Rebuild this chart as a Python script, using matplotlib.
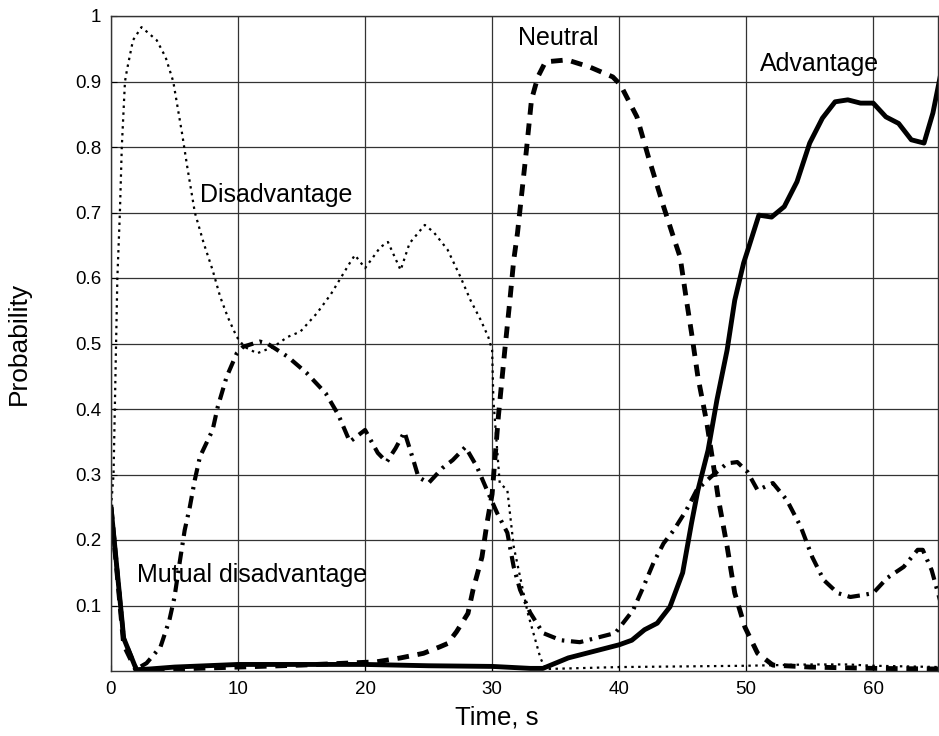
import matplotlib
matplotlib.use("Agg")
import matplotlib.pyplot as plt

plt.rcParams['font.family'] = ['Liberation Sans', 'DejaVu Sans']

# Advantage (solid)
adv_t = [0, 1, 2, 3, 5, 10, 15, 20, 25, 30, 33, 34, 36, 38, 40, 41, 42, 43, 44, 45,
         45.7, 46.2, 47, 47.7, 48.5, 49.1, 49.8, 50.2, 51, 52, 53, 54, 55, 56, 57, 58,
         59, 60, 61, 62, 63, 64, 64.7, 65.3]
adv_p = [0.25, 0.05, 0.002, 0.003, 0.006, 0.01, 0.01, 0.01, 0.008, 0.007, 0.004, 0.004,
         0.02, 0.03, 0.04, 0.047, 0.063, 0.073, 0.098, 0.15, 0.226, 0.276, 0.337, 0.414,
         0.49, 0.566, 0.623, 0.647, 0.696, 0.693, 0.709, 0.747, 0.806, 0.844, 0.869,
         0.872, 0.867, 0.867, 0.846, 0.836, 0.811, 0.806, 0.852, 0.91]

# Neutral (dashed)
neu_t = [0, 1, 2, 5, 10, 15, 20.9, 22.8, 24.6, 25.9, 26.5, 27.2, 28.1, 28.5, 29.2, 29.6,
         30.0, 30.5, 31.0, 31.4, 31.7, 32.0, 32.7, 33.1, 33.6, 34.2, 35.9, 37.7, 39.5,
         40.1, 41.4, 42.3, 43.5, 44.3, 44.8, 45.3, 45.7, 46.2, 46.9, 47.4, 47.8, 48.5,
         49.1, 49.9, 50.9, 52.1, 55, 60, 65.3]
neu_p = [0.25, 0.04, 0.0, 0.003, 0.006, 0.009, 0.014, 0.02, 0.027, 0.037, 0.042, 0.06,
         0.088, 0.124, 0.174, 0.226, 0.27, 0.39, 0.49, 0.566, 0.627, 0.669, 0.795, 0.872,
         0.907, 0.93, 0.933, 0.922, 0.907, 0.895, 0.846, 0.785, 0.709, 0.661, 0.632,
         0.566, 0.516, 0.449, 0.379, 0.317, 0.264, 0.19, 0.119, 0.067, 0.027, 0.009,
         0.006, 0.004, 0.003]

# Mutual disadvantage (dash-dot)
mut_t = [0, 1, 2, 2.8, 3.9, 4.6, 5.0, 5.4, 5.8, 6.2, 6.6, 7.0, 8.0, 8.4, 9.1, 9.9, 10.4,
         11.7, 12.3, 13.9, 15.4, 16.9, 17.9, 18.8, 20.0, 21.0, 21.7, 22.4, 23.1, 23.8,
         24.2, 25.0, 26.1, 26.9, 27.9, 28.8, 29.6, 30.4, 31.2, 31.7, 32.2, 33.0, 34.0,
         35.4, 36.9, 38.5, 39.7, 40.3, 41.1, 41.9, 42.7, 43.5, 44.3, 45.3, 46.1, 47.2,
         48.5, 49.3, 50.1, 50.9, 52.1, 53.2, 54.3, 55.2, 56.1, 57.2, 58.2, 59.2, 60.0,
         61.1, 62.4, 63.5, 63.9, 64.6, 65.3]
mut_p = [0.25, 0.05, 0.003, 0.012, 0.037, 0.078, 0.113, 0.165, 0.215, 0.25, 0.292, 0.327,
         0.368, 0.403, 0.449, 0.485, 0.495, 0.503, 0.5, 0.48, 0.455, 0.424, 0.391, 0.35,
         0.368, 0.333, 0.319, 0.34, 0.365, 0.322, 0.296, 0.287, 0.31, 0.322, 0.342, 0.312,
         0.276, 0.241, 0.211, 0.159, 0.124, 0.089, 0.058, 0.047, 0.044, 0.052, 0.058,
         0.073, 0.093, 0.128, 0.165, 0.195, 0.215, 0.246, 0.276, 0.296, 0.317, 0.319,
         0.304, 0.276, 0.287, 0.261, 0.22, 0.174, 0.139, 0.119, 0.113, 0.116, 0.119,
         0.142, 0.159, 0.185, 0.185, 0.154, 0.105]

# Disadvantage (dotted)
dis_t = [0, 0.2, 0.4, 0.5, 0.7, 0.85, 1.1, 1.26, 1.73, 2.4, 3.6, 4.3, 4.9, 5.6, 6.0, 6.6,
         7.3, 8.0, 8.6, 9.2, 9.9, 10.5, 11.5, 12.8, 13.9, 14.9, 16.2, 17.3, 18.8, 19.2,
         20.0, 21.2, 21.8, 22.8, 23.5, 24.7, 25.4, 26.5, 27.5, 28.3, 29.1, 29.7, 30.0,
         30.1, 30.4, 30.6, 31.2, 31.7, 32.8, 33.8, 34.2, 40, 45, 50, 55, 58, 60, 65.3]
dis_p = [0.25, 0.3, 0.5, 0.6, 0.7, 0.8, 0.9, 0.918, 0.963, 0.983, 0.963, 0.937, 0.9, 0.82,
         0.77, 0.70, 0.653, 0.612, 0.571, 0.54, 0.51, 0.495, 0.485, 0.495, 0.51, 0.518,
         0.546, 0.575, 0.623, 0.635, 0.615, 0.647, 0.655, 0.612, 0.653, 0.681, 0.67,
         0.643, 0.602, 0.566, 0.536, 0.51, 0.49, 0.414, 0.337, 0.287, 0.276, 0.19, 0.089,
         0.02, 0.003, 0.006, 0.007, 0.008, 0.01, 0.01, 0.008, 0.006]

xticks = [0, 10, 20, 30, 40, 50, 60]
yticks = [0.1, 0.2, 0.3, 0.4, 0.5, 0.6, 0.7, 0.8, 0.9, 1.0]
ytick_labels = ['0.1', '0.2', '0.3', '0.4', '0.5', '0.6', '0.7', '0.8', '0.9', '1']

W, H = 939, 736
fig = plt.figure(figsize=(W / 100, H / 100), dpi=100)
ax = fig.add_axes([111 / W, 1 - 671 / H, (938 - 111) / W, (671 - 16) / H])

ax.plot(dis_t, dis_p, color='black', lw=1.6, linestyle=(0, (1.1, 2.0)))
ax.plot(mut_t, mut_p, color='black', lw=3.0, linestyle=(0, (3.0, 1.6, 0.6, 1.6)))
ax.plot(neu_t, neu_p, color='black', lw=3.5, linestyle=(0, (2.4, 1.8)))
ax.plot(adv_t, adv_p, color='black', lw=3.5, solid_joinstyle='round')

ax.set_xlim(0, 65.1)
ax.set_ylim(0, 1)
ax.set_xticks(xticks)
ax.set_yticks(yticks)
ax.set_yticklabels(ytick_labels)
ax.tick_params(direction='in', length=4, labelsize=13.5, pad=7, colors='black')
ax.grid(True, color='#333333', lw=0.9)
ax.set_axisbelow(True)
for s in ax.spines.values():
    s.set_linewidth(1.0)
    s.set_color('#333333')

ax.set_xlabel('Time, s', fontsize=18.5)
ax.xaxis.set_label_coords(0.466, -0.052)
ax.set_ylabel('Probability', fontsize=19)
ax.yaxis.set_label_coords(-0.097, 0.5)

ax.text(32.0, 0.956, 'Neutral', fontsize=18, ha='left', va='baseline')
ax.text(51.1, 0.916, 'Advantage', fontsize=18, ha='left', va='baseline')
ax.text(7.0, 0.716, 'Disadvantage', fontsize=18, ha='left', va='baseline')
ax.text(2.05, 0.136, 'Mutual disadvantage', fontsize=18, ha='left', va='baseline')

fig.savefig('out.png', dpi=100)
